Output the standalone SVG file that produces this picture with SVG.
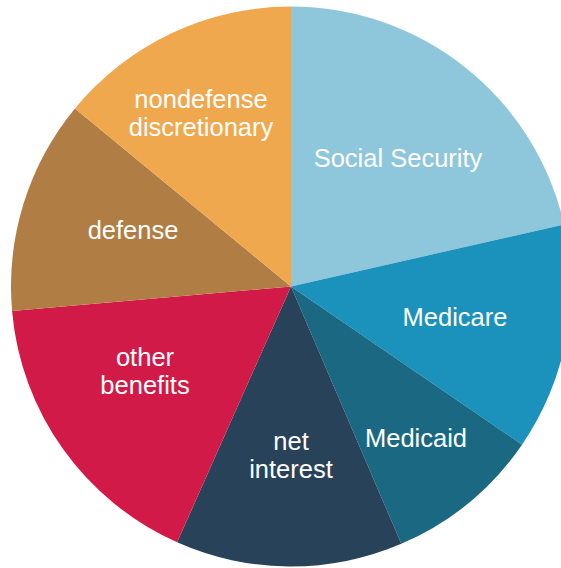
<svg xmlns="http://www.w3.org/2000/svg" width="561" height="568" viewBox="0 0 561 568">
<style>
.lbl{font-family:"Liberation Sans",Arial,Helvetica,sans-serif;font-size:25.5px;fill:#ffffff;text-anchor:middle}
</style>
<rect width="561" height="568" fill="#ffffff"/>
<g id="social-security"><path d="M291,286.5 L291,6.5 A280,280 0 0 1 564.04,224.47 Z" fill="#8EC6DC"/><text class="lbl" x="398" y="167">Social Security</text></g>
<g id="medicare"><path d="M291,286.5 L564.04,224.47 A280,280 0 0 1 522.03,444.69 Z" fill="#1A92BC"/><text class="lbl" x="455" y="326">Medicare</text></g>
<g id="medicaid"><path d="M291,286.5 L522.03,444.69 A280,280 0 0 1 401.30,543.86 Z" fill="#1B6882"/><text class="lbl" x="416" y="447">Medicaid</text></g>
<g id="net-interest"><path d="M291,286.5 L401.30,543.86 A280,280 0 0 1 177.11,542.29 Z" fill="#284359"/><text class="lbl" x="291" y="449.5">net</text><text class="lbl" x="291" y="477.5">interest</text></g>
<g id="other-benefits"><path d="M291,286.5 L177.11,542.29 A280,280 0 0 1 12.07,310.90 Z" fill="#D11A47"/><text class="lbl" x="145" y="365.5">other</text><text class="lbl" x="145" y="393.5">benefits</text></g>
<g id="defense"><path d="M291,286.5 L12.07,310.90 A280,280 0 0 1 74.95,108.40 Z" fill="#B07D44"/><text class="lbl" x="133" y="239">defense</text></g>
<g id="nondefense-discretionary"><path d="M291,286.5 L74.95,108.40 A280,280 0 0 1 291,6.5 Z" fill="#F0A84F"/><text class="lbl" x="201" y="107.5">nondefense</text><text class="lbl" x="201" y="135.5">discretionary</text></g>
<g id="connectors"></g>
</svg>
